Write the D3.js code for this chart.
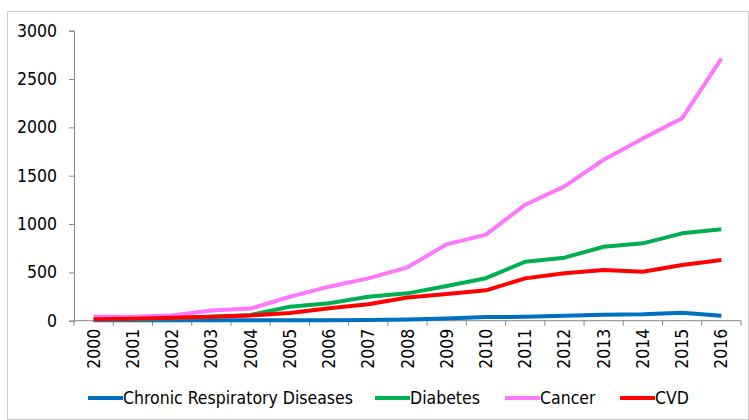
<!DOCTYPE html>
<html>
<head>
<meta charset="utf-8">
<script src="https://cdn.jsdelivr.net/npm/d3@7"></script>
<style>
  body { margin: 0; background: #fff; }
  text { font-family: "Liberation Sans Narrow", "DejaVu Sans Condensed", Arial, sans-serif; fill: #000; }
</style>
</head>
<body>
<script>
var years = ['2000', '2001', '2002', '2003', '2004', '2005', '2006', '2007', '2008',
    '2009', '2010', '2011', '2012', '2013', '2014', '2015', '2016'];
var respiratory = [5, 5, 5, 5, 5, 5, 5, 8, 12, 22, 38, 40, 50, 62, 66, 83, 52];
var diabetes = [15, 15, 25, 40, 60, 145, 180, 248, 283, 359, 440, 610, 652, 765, 800, 904, 945];
var cancer = [40, 40, 55, 105, 125, 248, 352, 438, 552, 790, 890, 1200, 1390, 1665, 1886, 2095, 2712];
var cvd = [15, 20, 30, 40, 55, 79, 128, 170, 240, 276, 314, 438, 490, 524, 507, 576, 628];
var yTicks = [0, 500, 1000, 1500, 2000, 2500, 3000];
var seriesNames = ['Chronic Respiratory Diseases', 'Diabetes', 'Cancer', 'CVD'];
var seriesColors = ['#0070C0', '#00B050', '#FF77FF', '#FF0000'];

var width = 749,
    height = 420;

var svg = d3.select('body').append('svg')
    .attr('width', width)
    .attr('height', height);

// chart frame
svg.append('rect')
    .attr('x', 7.5).attr('y', 11.5)
    .attr('width', 741).attr('height', 408)
    .attr('fill', 'none').attr('stroke', '#c8c8c8');

var x = d3.scaleBand().domain(years).range([74, 741]);
var y = d3.scaleLinear().domain([0, 3000]).range([320.7, 30.7]);

// y axis
var yAxis = svg.append('g')
    .attr('transform', 'translate(74,0)')
    .call(d3.axisLeft(y).tickValues(yTicks).tickSize(5).tickPadding(12).tickFormat(d3.format('d')));
yAxis.selectAll('line, path').attr('stroke', '#868686');
yAxis.selectAll('text').style('font-size', '17.5px');

// x axis, ticks between categories
var xAxis = svg.append('g')
    .attr('transform', 'translate(0,' + y(0) + ')');
xAxis.append('line')
    .attr('x1', x.range()[0]).attr('x2', x.range()[1])
    .attr('stroke', '#868686');
xAxis.selectAll('.tk').data(years.concat(['end'])).enter().append('line')
    .attr('x1', function (d, i) { return x.range()[0] + i * x.bandwidth(); })
    .attr('x2', function (d, i) { return x.range()[0] + i * x.bandwidth(); })
    .attr('y1', 0).attr('y2', 5)
    .attr('stroke', '#868686');
xAxis.selectAll('.lbl').data(years).enter().append('text')
    .attr('transform', function (d) {
        return 'translate(' + (x(d) + x.bandwidth() / 2 + 6) + ',8) rotate(-90)';
    })
    .attr('text-anchor', 'end')
    .style('font-size', '17.5px')
    .text(function (d) { return d; });

var line = d3.line()
    .x(function (d, i) { return x(years[i]) + x.bandwidth() / 2; })
    .y(function (d) { return y(d); });

var series = [respiratory, diabetes, cancer, cvd];
svg.selectAll('.series').data(series).enter().append('path')
    .attr('d', line)
    .attr('fill', 'none')
    .attr('stroke', function (d, i) { return seriesColors[i]; })
    .attr('stroke-width', 4)
    .attr('stroke-linejoin', 'round');

// legend
var legendX = [88, 375, 505, 620];
var legend = svg.selectAll('.legend').data(seriesNames).enter().append('g')
    .attr('transform', function (d, i) { return 'translate(' + legendX[i] + ',398)'; });
legend.append('line')
    .attr('x1', 0).attr('x2', 35)
    .attr('stroke', function (d, i) { return seriesColors[i]; })
    .attr('stroke-width', 4);
legend.append('text')
    .attr('x', 35).attr('y', 6)
    .style('font-size', '17.5px')
    .text(function (d) { return d; });
</script>
</body>
</html>
